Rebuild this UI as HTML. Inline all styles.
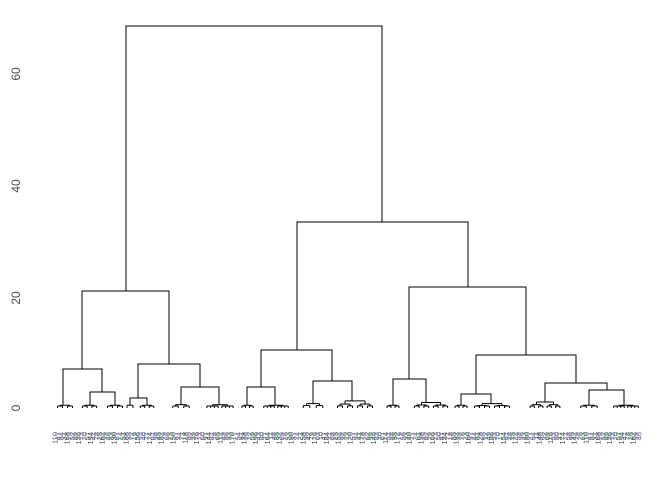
<!DOCTYPE html>
<html><head><meta charset="utf-8"><style>
html,body{margin:0;padding:0;background:#fff;width:672px;height:480px;overflow:hidden}
svg{display:block}
</style></head><body>
<svg id="s" width="672" height="480" xmlns="http://www.w3.org/2000/svg" font-family="Liberation Sans, sans-serif">
<g fill="#4d4d4d" font-size="12">
<text transform="translate(20,408) rotate(-90)" text-anchor="middle">0</text>
<text transform="translate(20,298) rotate(-90)" text-anchor="middle">20</text>
<text transform="translate(20,186) rotate(-90)" text-anchor="middle">40</text>
<text transform="translate(20,74) rotate(-90)" text-anchor="middle">60</text>
</g>
<g id="d" stroke="#000" stroke-width="1" fill="none">
<path d="M126,291V26H382V222"/>
<path d="M82,369V291H169V364"/>
<path d="M63,403V369H102V392"/>
<path d="M90,403V392H115V403"/>
<path d="M138,398V364H200V387"/>
<path d="M130,403V398H147V403"/>
<path d="M181,402V387H219V402"/>
<path d="M261,387V350H332V381"/>
<path d="M247,403V387H275V403"/>
<path d="M297,350V222H468V287"/>
<path d="M313,400V381H352V395"/>
<path d="M409,379V287H526V355"/>
<path d="M393,403V379H426V398"/>
<path d="M476,394V355H576V383"/>
<path d="M461,403V394H491V400"/>
<path d="M545,397V383H607V390"/>
<path d="M589,403V390H624V403"/>
</g>
<g id="lab" font-size="7.5"></g>
</svg>
<script>
var d=document.getElementById('d'),lab=document.getElementById('lab'),NS='http://www.w3.org/2000/svg';
function P(s){var p=document.createElementNS(NS,'path');p.setAttribute('d',s);d.appendChild(p);}
function sub(a,b,yt,cx){
  if(b-a<7){P('M'+cx+','+yt+'V408');return;}
  var m=(a+b)/2,l=(a+m)/2,r=(m+b)/2,y=yt+(408-yt)*0.45;
  if(y>406)y=406;
  P('M'+cx+','+yt+'V'+y);P('M'+l+','+y+'H'+r);
  sub(a,m,y,l);sub(m,b,y,r);
}
var T=[[63,403,55,75],[90,403,80,99],[115,403,105,125],[130,403,124,136],[147,403,138,156],[181,402,170,192],[219,402,205,235],[247,403,240,255],[275,403,262,290],[313,400,300,326],[352,395,335,375],[393,403,385,401],[426,398,412,450],[461,403,453,469],[491,400,472,512],[545,397,528,562],[589,403,578,600],[624,403,612,640]];
T.forEach(function(t){sub(t[2],t[3],t[1],t[0]);});
var cols=['#4d4d4d','#5a6fa0','#7a5a8a','#3b7a6a'];
for(var x=55,i=0;x<=640;x+=2.95,i++){
  var t=document.createElementNS(NS,'text');
  t.setAttribute('transform','translate('+(x+2.5)+',432) rotate(-90)');
  t.setAttribute('text-anchor','end');t.setAttribute('fill',cols[i%4]);
  t.textContent=(i%4==0?'1':'')+((i*37)%90+10);
  lab.appendChild(t);
}
</script>
</body></html>
